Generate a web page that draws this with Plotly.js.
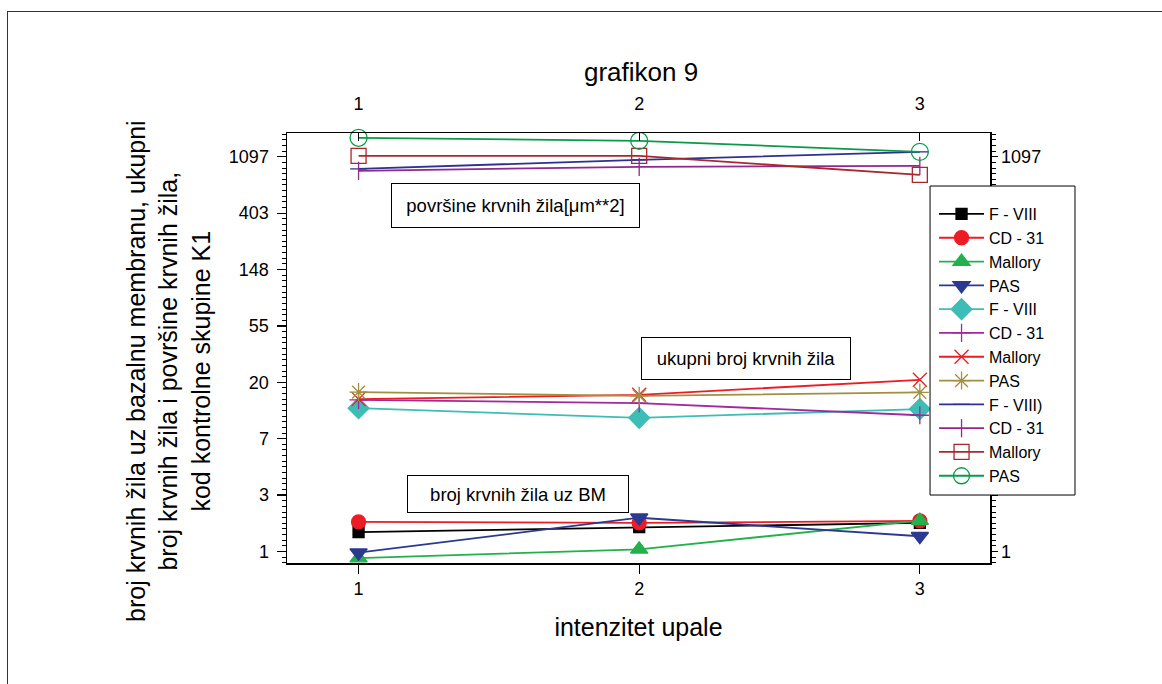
<!DOCTYPE html>
<html>
<head>
<meta charset="utf-8">
<script src="https://cdn.plot.ly/plotly-3.0.1.min.js"></script>
<style>
html,body{margin:0;padding:0;background:#fff;}
#wrap{position:relative;width:1162px;height:684px;overflow:hidden;}
#frame{position:absolute;left:7px;top:11px;width:1200px;height:700px;border-top:1.5px solid #333;border-left:1.5px solid #333;pointer-events:none;}
#chart{position:absolute;left:0;top:0;width:1162px;height:684px;}
</style>
</head>
<body>
<div id="wrap"><div id="chart"></div><div id="frame"></div></div>
<script>
// ---- data ----
const categories = [1, 2, 3];
const xTickLabels = ['1', '2', '3'];
const yTickLabels = ['1', '3', '7', '20', '55', '148', '403', '1097'];
const seriesNames = ['F - VIII', 'CD - 31', 'Mallory', 'PAS', 'F - VIII', 'CD - 31', 'Mallory', 'PAS', 'F - VIII)', 'CD - 31', 'Mallory', 'PAS'];

// broj krvnih žila uz BM
const bmFVIII   = [1.41, 1.54, 1.66];
const bmCD31    = [1.69, 1.66, 1.72];
const bmMallory = [0.89, 1.04, 1.73];
const bmPAS     = [0.98, 1.82, 1.31];
// ukupni broj krvnih žila
const ukFVIII   = [12.7, 10.7, 12.5];
const ukCD31    = [14.7, 13.9, 11.2];
const ukMallory = [14.9, 16.1, 21.0];
const ukPAS     = [16.9, 15.8, 16.8];
// površine krvnih žila
const povFVIII   = [884, 1038, 1196];
const povCD31    = [854, 917, 933];
const povMallory = [1113, 1113, 794];
const povPAS     = [1535, 1455, 1196];

// ---- styles ----
const styles = [
  {c:'#000000', s:'square', sz:11},
  {c:'#ED1C24', s:'circle', sz:14},
  {c:'#22B14C', s:'triangle-up', sz:15},
  {c:'#2B3990', s:'triangle-down', sz:15},
  {c:'#3DBDB6', s:'diamond', sz:16},
  {c:'#A3289A', s:'cross-thin-open', sz:13},
  {c:'#ED1C24', s:'x-thin-open', sz:14},
  {c:'#A09040', s:'asterisk-open', sz:15},
  {c:'#2E3192', s:'line-ew-open', sz:12},
  {c:'#92278F', s:'line-ns-open', sz:13},
  {c:'#A8282E', s:'square-open', sz:15},
  {c:'#0A9A4A', s:'circle-open', sz:17}
];
const allSeries = [bmFVIII, bmCD31, bmMallory, bmPAS, ukFVIII, ukCD31, ukMallory, ukPAS, povFVIII, povCD31, povMallory, povPAS];

const traces = allSeries.map((vals, i) => ({
  type: 'scatter', mode: 'lines+markers',
  x: categories, y: vals, name: seriesNames[i],
  xaxis: i >= 8 ? 'x2' : 'x', yaxis: i >= 8 ? 'y2' : 'y',
  line: {color: styles[i].c, width: 1.8},
  marker: {symbol: styles[i].s, size: styles[i].sz, color: styles[i].c,
           line: {color: styles[i].c, width: 1.3}},
  cliponaxis: false
}));

const majorVals = yTickLabels.map((t, i) => Math.exp(i));
// right axis: labels hidden behind the legend box are left blank
const rightTickLabels = yTickLabels.map((t, i) => (i === 0 || i === yTickLabels.length - 1) ? t : '');
const minorVals = [];
for (let k = -1; k < 8; k++) for (let j = 1; j < 10; j++) minorVals.push(Math.exp(k + j / 10));

const font = 'Liberation Sans, Arial, sans-serif';
const yRange = [-0.0886, 3.223];
const xRange = [0.745, 3.25];
const tickFont = {family: font, size: 18, color: '#000'};

const yCommon = {
  type: 'log', range: yRange, tickmode: 'array', tickvals: majorVals, ticktext: yTickLabels,
  ticks: 'outside', ticklen: 9, tickwidth: 1.3, tickcolor: '#000',
  showline: true, linecolor: '#000', linewidth: 1.5, showgrid: false, zeroline: false,
  tickfont: tickFont, automargin: false,
  minor: {tickmode: 'array', tickvals: minorVals, ticks: 'outside', ticklen: 4, tickcolor: '#000', tickwidth: 1, showgrid: false}
};
const xCommon = {
  range: xRange, tickmode: 'array', tickvals: categories, ticktext: xTickLabels,
  tickwidth: 1.3, tickcolor: '#000', automargin: false,
  showline: true, linecolor: '#000', linewidth: 1.5, showgrid: false, zeroline: false,
  tickfont: tickFont
};

const boxFont = {family: font, size: 18.5, color: '#000'};

const layout = {
  width: 1162, height: 684,
  margin: {l: 287, r: 172, t: 133, b: 121},
  paper_bgcolor: '#fff', plot_bgcolor: '#fff',
  font: {family: font, color: '#000'},
  title: {text: 'grafikon 9', font: {family: font, size: 26, color: '#000'},
          x: 0.5036, xanchor: 'center', y: 0.8947, yanchor: 'middle', xref: 'paper'},
  showlegend: true,
  legend: {x: 0.9204, y: 0.851, xanchor: 'left', yanchor: 'top',
           bgcolor: 'rgba(0,0,0,0)', borderwidth: 0, itemwidth: 45,
           font: {family: font, size: 16, color: '#000'}, tracegroupgap: 0},
  xaxis: Object.assign({}, xCommon, {
    ticks: 'outside', ticklen: 9, anchor: 'y',
    title: {text: 'intenzitet upale', font: {family: font, size: 25, color: '#000'}, standoff: 20}
  }),
  xaxis2: Object.assign({}, xCommon, {
    overlaying: 'x', side: 'top', anchor: 'y2', ticks: 'inside', ticklen: 8, ticklabelstandoff: 14
  }),
  yaxis: Object.assign({}, yCommon, {anchor: 'x', ticklabelstandoff: 4}),
  yaxis2: Object.assign({}, yCommon, {overlaying: 'y', side: 'right', anchor: 'x2', ticklen: 6, ticktext: rightTickLabels}),
  shapes: [
    {type: 'rect', xref: 'paper', yref: 'paper', x0: 0.9147, x1: 1.1209, y0: 0.1581, y1: 0.8767,
     line: {color: '#000', width: 1}, fillcolor: '#fff', layer: 'above'}
  ],
  annotations: [
    {text: 'broj krvnih žila uz bazalnu membranu, ukupni<br>broj krvnih žila i površine krvnih žila,<br>kod kontrolne skupine K1',
     xref: 'paper', yref: 'paper', x: -0.1693, y: 0.4465, xanchor: 'center', yanchor: 'middle',
     textangle: -90, showarrow: false, font: {family: font, size: 25, color: '#000'}},
    {text: 'površine krvnih žila[μm**2]', xref: 'paper', yref: 'paper', x: 0.325, y: 0.831,
     xanchor: 'center', yanchor: 'middle', showarrow: false, width: 247, height: 43,
     bgcolor: '#fff', bordercolor: '#000', borderwidth: 1, borderpad: 0,
     font: boxFont},
    {text: 'ukupni broj krvnih žila', xref: 'paper', yref: 'paper', x: 0.653, y: 0.4756,
     xanchor: 'center', yanchor: 'middle', showarrow: false, width: 208, height: 41,
     bgcolor: '#fff', bordercolor: '#000', borderwidth: 1, borderpad: 0,
     font: boxFont},
    {text: 'broj krvnih žila uz BM', xref: 'paper', yref: 'paper', x: 0.3286, y: 0.1605,
     xanchor: 'center', yanchor: 'middle', showarrow: false, width: 220, height: 36,
     bgcolor: '#fff', bordercolor: '#000', borderwidth: 1, borderpad: 0,
     font: boxFont}
  ]
};

Plotly.newPlot('chart', traces, layout, {displayModeBar: false, staticPlot: true});
</script>
</body>
</html>
